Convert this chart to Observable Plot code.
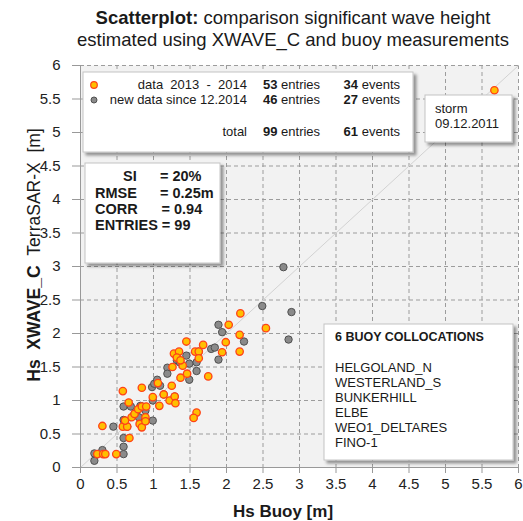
<!DOCTYPE html>
<html><head><meta charset="utf-8">
<script src="https://cdn.jsdelivr.net/npm/d3@7"></script>
<script src="https://cdn.jsdelivr.net/npm/@observablehq/plot@0.6"></script>
<style>
body{margin:0;background:#fff;font-family:"Liberation Sans",Arial,sans-serif;}
#wrap{position:relative;width:523px;height:521px;overflow:hidden;}
#wrap svg{position:absolute;left:0;top:0;}
</style></head><body><div id="wrap"></div>
<script>
// ---- data: data 2013 - 2014 (orange)
const oldBuoy  = [0.23,0.31,0.34,0.49,0.30,0.58,0.66,0.58,0.64,0.61,0.67,0.70,0.74,0.79,0.84,0.90,0.81,0.84,0.89,0.89,0.99,1.08,0.84,1.06,1.14,1.22,1.29,1.30,1.25,1.26,1.37,1.46,1.40,1.28,1.35,1.32,1.37,1.45,1.57,1.62,1.62,1.68,1.75,1.59,1.55,1.99,1.94,2.03,2.19,2.18,2.54,2.18,5.67];
const oldXwave = [0.20,0.20,0.20,0.20,0.62,1.14,0.97,0.61,0.61,0.70,0.44,0.75,0.80,0.87,0.91,0.91,0.65,0.60,0.75,0.69,1.05,0.92,1.19,1.26,1.09,1.00,1.06,0.96,1.22,1.50,1.34,1.40,1.52,1.70,1.73,1.64,1.60,1.88,1.73,1.73,1.63,1.83,1.36,0.82,0.74,1.87,1.72,2.13,2.30,1.98,2.08,1.73,5.63];
// ---- new data since 12.2014 (grey)
const newBuoy  = [0.19,0.19,0.30,0.59,0.59,0.59,0.45,0.59,0.59,0.69,0.82,0.80,0.89,0.99,0.98,1.01,1.05,1.09,1.19,1.19,1.32,1.36,1.45,1.49,1.49,1.59,1.59,1.79,1.84,1.89,1.89,1.94,2.49,2.89,2.85,2.24,2.78,0.99,0.74,0.84,0.89,1.14,1.29,1.32,1.62,0.64];
const newXwave = [0.10,0.21,0.26,0.20,0.31,0.44,0.61,0.71,0.91,0.91,0.92,0.75,0.85,0.70,1.20,1.25,1.31,1.22,1.49,1.40,1.60,1.57,1.67,1.55,1.31,1.57,1.44,1.77,1.79,1.61,2.13,2.02,2.41,2.32,1.91,1.88,2.99,1.00,0.80,0.91,0.69,1.09,1.06,1.64,1.73,0.61];
// ---- axis ticks
const ticks = [0,0.5,1,1.5,2,2.5,3,3.5,4,4.5,5,5.5,6];
const tickLabels = ["0","0.5","1","1.5","2","2.5","3","3.5","4","4.5","5","5.5","6"];
// ---- texts
const titleBold = "Scatterplot:";
const titleRest = " comparison significant wave height";
const title2 = "estimated using XWAVE_C and buoy measurements";
const legendRows = [
  {label:"data  2013  -  2014", entries:"53", events:"34", color:"old"},
  {label:"new data since 12.2014", entries:"46", events:"27", color:"new"},
  {label:"total", entries:"99", events:"61", color:null}
];
const stats = [["SI","= 20%"],["RMSE","= 0.25m"],["CORR","= 0.94"]];
const buoys = ["HELGOLAND_N","WESTERLAND_S","BUNKERHILL","ELBE","WEO1_DELTARES","FINO-1"];

const oldData = oldBuoy.map((b,i)=>({b, w:oldXwave[i]}));
const newData = newBuoy.map((b,i)=>({b, w:newXwave[i]}));
const diag = [ticks[0], ticks[ticks.length-1]].map(v=>({v}));

const ORF="#ffbf00", ORS="#ff4218", GRF="#8a8a8a", GRS="#505050";
const nb = s => s.replace(/ /g, "\u00a0");

const chart = Plot.plot({
  width:523, height:521, marginLeft:80, marginRight:5, marginTop:65, marginBottom:54,
  x:{domain:[0,6], label:null},
  y:{domain:[0,6], label:null},
  style:{fontFamily:"'Liberation Sans', Arial, sans-serif", fontSize:"15px", color:"#222", background:"transparent", overflow:"visible"},
  marks:[
    Plot.frame({fill:"#f2f2f2", stroke:null}),
    Plot.gridX(ticks.filter(d=>d>0), {stroke:"#9c9c9c", strokeOpacity:1, strokeDasharray:"4,3"}),
    Plot.gridY(ticks.filter(d=>d>0), {stroke:"#9c9c9c", strokeOpacity:1, strokeDasharray:"4,3"}),
    Plot.line(diag, {x:"v", y:"v", stroke:"#d2d2d2", strokeWidth:1}),
    Plot.dot(newData, {x:"b", y:"w", r:3.7, fill:GRF, stroke:GRS, strokeWidth:1}),
    Plot.dot(oldData, {x:"b", y:"w", r:3.7, fill:ORF, stroke:ORS, strokeWidth:1.3}),
    Plot.ruleX([0], {stroke:"#999"}),
    Plot.ruleY([0], {stroke:"#999"}),
    Plot.axisX(ticks, {tickSize:6, tickPadding:5, stroke:"#999", fontSize:15, tickFormat:(d)=>tickLabels[ticks.indexOf(d)]}),
    Plot.axisY(ticks, {tickSize:8, tickPadding:12, stroke:"#999", fontSize:15, tickFormat:(d)=>tickLabels[ticks.indexOf(d)]})
  ]
});
document.getElementById("wrap").appendChild(chart);

// ---- overlay annotations
const ov = d3.select("#wrap").append("svg").attr("width",523).attr("height",521)
  .style("font-family","'Liberation Sans', Arial, sans-serif");
const f = ov.append("defs").append("filter").attr("id","sh").attr("x","-10%").attr("y","-10%").attr("width","130%").attr("height","130%");
f.append("feDropShadow").attr("dx",3).attr("dy",3).attr("stdDeviation",1.6).attr("flood-color","#000").attr("flood-opacity",0.4);

function box(x,y,w,h){ ov.append("rect").attr("x",x).attr("y",y).attr("width",w).attr("height",h).attr("fill","#fff").attr("stroke","#c4c4c4").attr("stroke-width",1).attr("filter","url(#sh)"); }
function txt(x,y,size,opt={}){
  const t = ov.append("text").attr("x",x).attr("y",y).attr("font-size",size).attr("fill",opt.fill||"#1a1a1a")
    .attr("text-anchor",opt.anchor||"start").attr("font-weight",opt.bold?"bold":"normal");
  if(opt.transform) t.attr("transform",opt.transform);
  return t;
}

// title
const t1 = txt(293,24,18.5,{anchor:"middle"});
t1.append("tspan").attr("font-weight","bold").text(titleBold);
t1.append("tspan").text(nb(titleRest));
txt(293,46,18.5,{anchor:"middle"}).text(title2);

// axis titles
txt(283,517,17,{anchor:"middle",bold:true}).text("Hs Buoy [m]");
const yl = txt(0,0,17.5,{anchor:"middle",transform:"translate(40,255) rotate(-90)"});
yl.append("tspan").attr("font-weight","bold").text(nb("Hs  XWAVE_C"));
yl.append("tspan").text(nb("  TerraSAR-X  [m]"));

// legend box
box(83,72,330,80);
const rowY=[89,104,136];
legendRows.forEach((r,i)=>{
  if(r.color==="old") ov.append("circle").attr("cx",94).attr("cy",rowY[i]-4).attr("r",3.3).attr("fill",ORF).attr("stroke",ORS).attr("stroke-width",1.2);
  if(r.color==="new") ov.append("circle").attr("cx",94).attr("cy",rowY[i]-4).attr("r",3).attr("fill",GRF).attr("stroke",GRS).attr("stroke-width",1);
  txt(247,rowY[i],13,{anchor:"end"}).text(nb(r.label));
  const e = txt(263,rowY[i],13);
  e.append("tspan").attr("font-weight","bold").text(r.entries);
  e.append("tspan").text(nb(" entries"));
  const v = txt(400,rowY[i],13,{anchor:"end"});
  v.append("tspan").attr("font-weight","bold").text(r.events);
  v.append("tspan").text(nb(" events"));
});

// stats box
box(85,163,135,100);
const sx=[123,95,95], ex=[160,160,161.5], sy=[181,198,214];
stats.forEach((s,i)=>{
  txt(sx[i],sy[i],14.5,{bold:true}).text(s[0]);
  txt(ex[i],sy[i],14.5,{bold:true}).text(s[1]);
});
txt(95,230,14.5,{bold:true}).text("ENTRIES = 99");

// storm box
box(425,95,87,47);
txt(435,113,13).text("storm");
txt(435,128,13).text("09.12.2011");

// buoy box
box(324,324,189,136);
txt(335,341,12.5,{bold:true}).text("6 BUOY COLLOCATIONS");
buoys.forEach((b,i)=>txt(335,372+i*15,13).text(b));
</script></body></html>
